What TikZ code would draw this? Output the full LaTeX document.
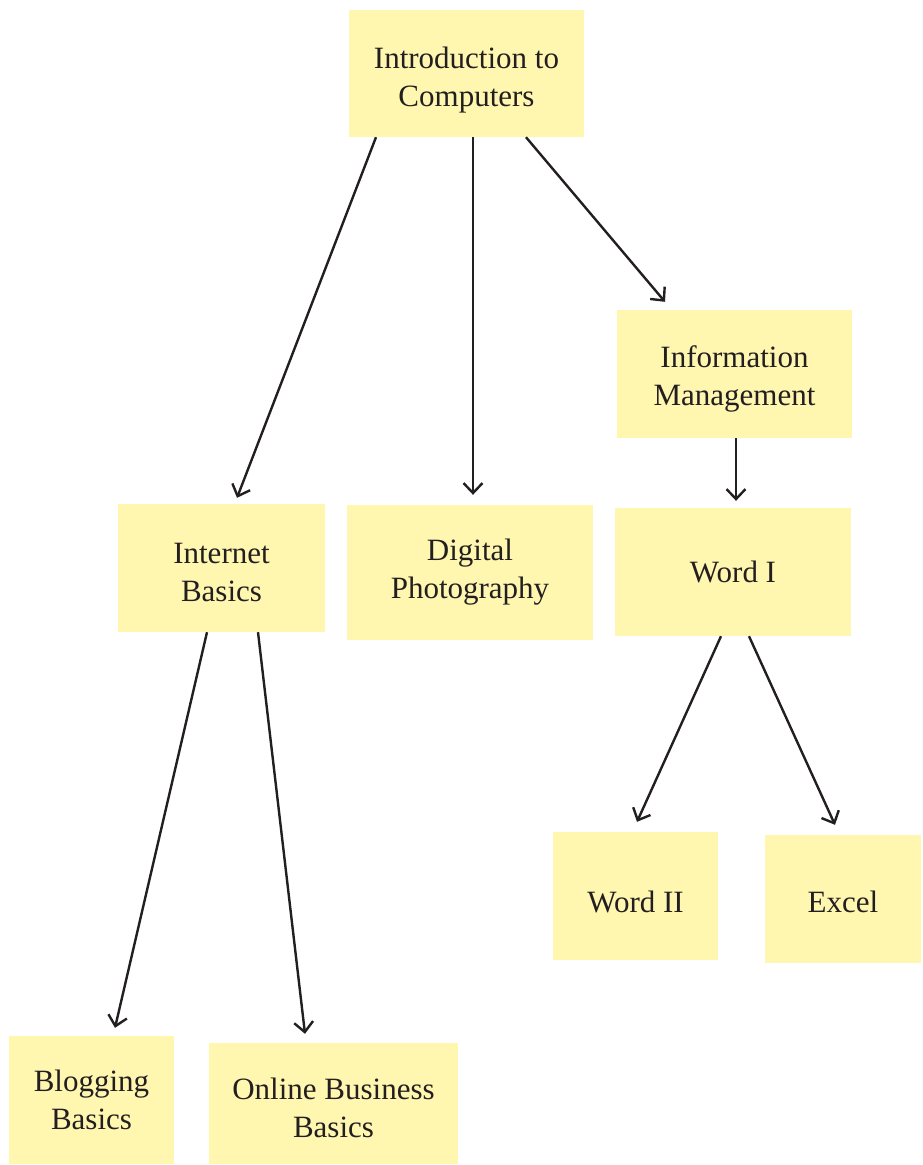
\documentclass[tikz,border=0pt]{standalone}
\usepackage{fontspec}
\setmainfont{Liberation Serif}
\usepackage{xcolor}
\usepackage{tikz}
\usetikzlibrary{arrows.meta}
\definecolor{notepad}{HTML}{FFF6B0}
\definecolor{inkdark}{HTML}{231F20}
% text set a little lower in its box, box size unchanged
\newcommand{\dropby}[2]{\raisebox{-#1}[\height][\depth]{\begin{tabular}{@{}c@{}}#2\end{tabular}}}

\begin{document}
\begin{tikzpicture}[
    x=1pt, y=-1pt,
    box/.style={rectangle, fill=notepad, inner sep=0pt, align=center,
                text=inkdark, font=\fontsize{31}{38}\selectfont},
    arrow/.style={-{Straight Barb[length=10pt,width=19pt,line width=2.4pt]},
                  line width=2.4pt, draw=inkdark},
]
\useasboundingbox (0,0) rectangle (922,1165);

% Top course
\node[box, minimum width=235, minimum height=127] (intro) at (466.5,73.5) {\dropby{6pt}{Introduction to\\Computers}};

% Second level
\node[box, minimum width=235, minimum height=128] (info) at (734.5,374) {\dropby{5pt}{Information\\Management}};
\node[box, minimum width=207, minimum height=128] (internet) at (221.5,568) {\dropby{7pt}{Internet\\Basics}};
\node[box, minimum width=246, minimum height=135] (digital) at (470,572.5) {Digital\\Photography};
\node[box, minimum width=236, minimum height=128] (word1) at (733,572) {Word I};

% Lower level
\node[box, minimum width=165, minimum height=128] (word2) at (635.5,896) {\dropby{9pt}{Word II}};
\node[box, minimum width=156, minimum height=128] (excel) at (843,899) {\dropby{6pt}{Excel}};
\node[box, minimum width=165, minimum height=128] (blogging) at (91.5,1100) {Blogging\\Basics};
\node[box, minimum width=249, minimum height=121] (online) at (333.5,1103.5) {\dropby{7pt}{Online Business\\Basics}};

% Arrows -- from the intro course
\draw[arrow] ([xshift=-90.5]intro.south) -- ([xshift=15.5,yshift=6]internet.north);
\draw[arrow] ([xshift=6.5]intro.south) -- ([xshift=3,yshift=10]digital.north);
\draw[arrow] ([xshift=59.5]intro.south) -- ([xshift=-69.5,yshift=8]info.north);
\draw[arrow] ([xshift=1.5]info.south) -- ([xshift=3,yshift=7]word1.north);

% Arrows -- lower courses
\draw[arrow] ([xshift=-14.5]internet.south) -- ([xshift=23.5,yshift=8]blogging.north);
\draw[arrow] ([xshift=36.5]internet.south) -- ([xshift=-28.5,yshift=9]online.north);
\draw[arrow] ([xshift=-12]word1.south) -- ([xshift=1.5,yshift=10]word2.north);
\draw[arrow] ([xshift=16]word1.south) -- ([xshift=-8,yshift=10]excel.north);
\end{tikzpicture}
\end{document}
